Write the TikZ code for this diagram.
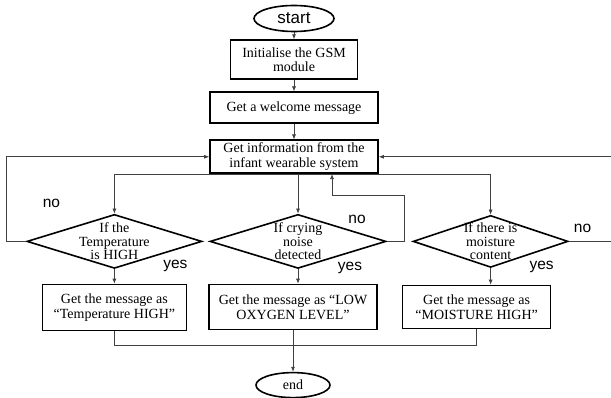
\documentclass[tikz,border=0pt]{standalone}
\usepackage{fontspec}
\setmainfont{Liberation Serif}
\setsansfont{Liberation Sans}
\usepackage{tikz}
\usetikzlibrary{arrows.meta,positioning,shapes.geometric}

\begin{document}
\begin{tikzpicture}[font=\fontsize{14}{14.5}\selectfont,
        box/.style={draw, line width=1.6pt, align=center, inner sep=2pt},
        term/.style={draw, ellipse, line width=1.6pt, inner sep=0pt},
        decision/.style={draw, diamond, line width=1.6pt, inner sep=0pt},
        dtext/.style={align=center, font=\fontsize{14}{13.4}\selectfont},
        lbl/.style={font=\sffamily\fontsize{15.5}{16}\selectfont},
        conn/.style={draw=black!75, line width=0.7pt},
        arr/.style={conn, -{Latex[length=5pt,width=4pt]}}]
        \useasboundingbox (0,0) rectangle (611pt,-398pt);
        \node[term, minimum width=80pt, minimum height=26pt, font=\sffamily\fontsize{17}{18}\selectfont] (start) at (294pt,-18.5pt) {start};
        \node[box, below=7pt of start, minimum width=127pt, minimum height=39pt] (init) {Initialise the GSM\\module};
        \node[box, below=11.5pt of init, minimum width=168pt, minimum height=31pt] (welcome) {Get a welcome message};
        \node[box, below=15.5pt of welcome, minimum width=168pt, minimum height=33pt] (info) {Get information from the\\infant wearable system};
        \node[decision, below=39.5pt of info, xshift=4pt, minimum width=176pt, minimum height=54pt] (crying) {};
        \node[decision, left=6.5pt of crying, minimum width=175pt, minimum height=54pt] (temp) {};
        \node[decision, right=25.5pt of crying, minimum width=155pt, minimum height=52pt] (moist) {};
        \node[dtext] (temptxt) at (temp) {If the\\Temperature\\is HIGH};
        \node[dtext] (cryingtxt) at (crying) {If crying\\noise\\detected};
        \node[dtext] (moisttxt) at (moist) {If there is\\moisture\\content};
        \node[box, below=14.5pt of temp, minimum width=144pt, minimum height=46pt] (tempmsg) {Get the message as\\“Temperature HIGH"};
        \node[box, below=14.5pt of crying, xshift=-5pt, minimum width=168pt, minimum height=45pt] (lowmsg) {Get the message as “LOW\\OXYGEN LEVEL”};
        \node[box, below=16.5pt of moist, xshift=-14pt, minimum width=148pt, minimum height=43pt] (moistmsg) {Get the message as\\“MOISTURE HIGH”};
        \node[term, below=41.5pt of lowmsg, minimum width=74pt, minimum height=25pt] (stop) {end};
        \coordinate[below=15pt of lowmsg] (join);
        % yes / no labels
        \node[lbl] (tempno) at ([xshift=-63pt,yshift=38pt]temp.center) {no};
        \node[lbl] (tempyes) at ([xshift=61pt,yshift=-25pt]temp.center) {yes};
        \node[lbl] (cryingno) at ([xshift=59pt,yshift=22pt]crying.center) {no};
        \node[lbl] (cryingyes) at ([xshift=52pt,yshift=-27pt]crying.center) {yes};
        \node[lbl] (moistno) at ([xshift=92pt,yshift=13pt]moist.center) {no};
        \node[lbl] (moistyes) at ([xshift=51pt,yshift=-26pt]moist.center) {yes};
        \draw[arr] (start) -- (init);
        \draw[arr] (init) -- (welcome);
        \draw[arr] (welcome) -- (info);
        \draw[arr] (info.south) -| (temp.north);
        \draw[arr] (info.south -| crying.north) -- (crying.north);
        \draw[arr] (info.south) -| (moist.north);
        \draw[arr] (temp.west) -- ++(-19.5pt,0) |- (info.west);
        \draw[arr] (crying.east) -- ++(18pt,0) |- ([xshift=38pt,yshift=-21pt]info.south) -- ([xshift=38pt]info.south);
        \draw[arr] (moist.east) -- ++(60pt,0) |- (info.east);
        \draw[arr] (temp.south) -- (tempmsg.north);
        \draw[arr] (crying.south) -- (crying.south |- lowmsg.north);
        \draw[arr] (moist.south) -- (moist.south |- moistmsg.north);
        \draw[conn] (tempmsg.south) |- (join) -| (moistmsg.south);
        \draw[arr] (lowmsg.south) -- (stop);
      \end{tikzpicture}
\end{document}
